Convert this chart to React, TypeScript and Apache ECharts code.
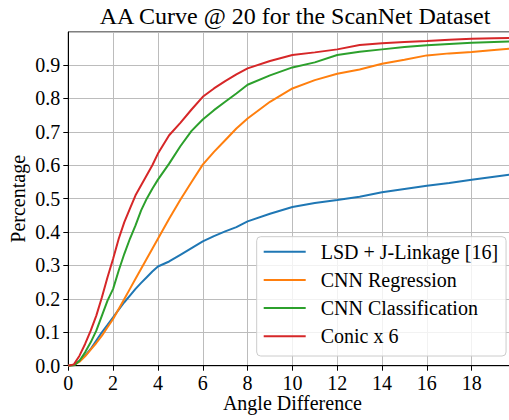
import React, { useEffect, useRef } from "react";
import * as echarts from "echarts";

const title = "AA Curve @ 20 for the ScanNet Dataset";
const xName = "Angle Difference";
const yName = "Percentage";
const seriesNames = ["LSD + J-Linkage [16]", "CNN Regression", "CNN Classification", "Conic x 6"];
const colors = ["#1f77b4", "#ff7f0e", "#2ca02c", "#d62728"];

const angles = [
  0, 0.25, 0.5, 0.75, 1, 1.25, 1.5, 1.75, 2, 2.25, 2.5, 2.75, 3, 3.25, 3.5, 3.75, 4,
  4.5, 5, 5.5, 6, 6.5, 7, 7.5, 8, 9, 10, 11, 12, 13, 14, 15, 16, 17, 18, 19, 20,
];
const lsd = [
  0, 0.002, 0.015, 0.03, 0.05, 0.075, 0.1, 0.122, 0.145, 0.168, 0.19, 0.21, 0.23, 0.248, 0.265, 0.282, 0.297,
  0.312, 0.332, 0.352, 0.372, 0.388, 0.402, 0.415, 0.432, 0.455, 0.475, 0.487, 0.496, 0.506, 0.519, 0.529, 0.539, 0.547, 0.557, 0.566, 0.575,
];
const cnnReg = [
  0, 0.002, 0.012, 0.028, 0.048, 0.068, 0.09, 0.115, 0.14, 0.17, 0.2, 0.23, 0.26, 0.29, 0.32, 0.35, 0.38,
  0.44, 0.497, 0.55, 0.602, 0.64, 0.675, 0.71, 0.74, 0.79, 0.83, 0.855, 0.874, 0.887, 0.904, 0.916, 0.929, 0.935, 0.939, 0.945, 0.951,
];
const cnnCls = [
  0, 0.001, 0.015, 0.04, 0.07, 0.105, 0.15, 0.195, 0.23, 0.285, 0.335, 0.38, 0.42, 0.465, 0.5, 0.53, 0.557,
  0.605, 0.657, 0.703, 0.737, 0.765, 0.79, 0.815, 0.841, 0.869, 0.893, 0.908, 0.93, 0.94, 0.947, 0.954, 0.959, 0.963, 0.967, 0.969, 0.971,
];
const conic = [
  0, 0.004, 0.03, 0.065, 0.105, 0.15, 0.205, 0.265, 0.32, 0.38, 0.43, 0.47, 0.51, 0.54, 0.57, 0.6, 0.635,
  0.69, 0.727, 0.767, 0.805, 0.83, 0.852, 0.872, 0.89, 0.912, 0.93, 0.938, 0.947, 0.96, 0.965, 0.969, 0.972, 0.976, 0.979, 0.98, 0.981,
];
const seriesValues = [lsd, cnnReg, cnnCls, conic];

const FONT = "Liberation Serif";
const FS = 20;

export default function App() {
  const ref = useRef<HTMLDivElement>(null);
  useEffect(() => {
    if (!ref.current) return;
    const chart = echarts.init(ref.current, undefined, { renderer: "svg" });
    const txt = { fontFamily: FONT, fontSize: FS, color: "#000" };
    chart.setOption({
      animation: false,
      backgroundColor: "#ffffff",
      textStyle: { fontFamily: FONT },
      title: {
        text: title,
        left: 290,
        textAlign: "center",
        top: -1,
        textStyle: { fontFamily: FONT, fontSize: 24, fontWeight: "normal", color: "#000" },
      },
      legend: {
        orient: "vertical",
        left: 256.7,
        top: 236.7,
        icon: "path://M0,0 L42,0 L42,2 L0,2 Z",
        itemWidth: 42,
        itemHeight: 20,
        itemGap: 8.2,
        padding: [5, 8, 9.7, 7],
        borderColor: "#cccccc",
        borderWidth: 1,
        borderRadius: 4,
        backgroundColor: "rgba(255,255,255,0.8)",
        textStyle: { ...txt, lineHeight: 20, padding: [0, 0, 0, 10] },
        data: seriesNames,
      },
      grid: {
        left: 68.3,
        top: 32,
        right: 3.5,
        bottom: 54.3,
        containLabel: false,
        outerBoundsMode: "none",
        show: true,
        borderColor: "#000",
        borderWidth: 1,
      },
      xAxis: {
        type: "value",
        min: 0,
        max: 20,
        interval: 2,
        name: xName,
        nameLocation: "middle",
        nameGap: 27,
        nameMoveOverlap: false,
        nameTextStyle: txt,
        axisLine: { show: true, lineStyle: { color: "#000", width: 1 } },
        axisTick: { show: true, length: 5, lineStyle: { color: "#000" } },
        axisLabel: { ...txt, margin: 7, showMaxLabel: false },
        splitLine: { show: true, lineStyle: { color: "#bcbcbc", width: 1 } },
      },
      yAxis: {
        type: "value",
        min: 0,
        max: 0.999,
        interval: 0.1,
        name: yName,
        nameLocation: "middle",
        nameGap: 40,
        nameMoveOverlap: false,
        nameRotate: 90,
        nameTextStyle: txt,
        axisLine: { show: true, lineStyle: { color: "#000", width: 1 } },
        axisTick: { show: true, length: 5, lineStyle: { color: "#000" } },
        axisLabel: {
          ...txt,
          margin: 8,
          showMaxLabel: false,
          formatter: (v: number) => v.toFixed(1),
        },
        splitLine: { show: true, lineStyle: { color: "#bcbcbc", width: 1 } },
      },
      series: seriesNames.map((name, i) => ({
        name,
        type: "line",
        symbol: "none",
        color: colors[i],
        itemStyle: { color: colors[i] },
        lineStyle: { color: colors[i], width: 2 },
        data: angles.map((a, j) => [a, seriesValues[i][j]]),
      })),
    });
    return () => chart.dispose();
  }, []);
  return (
    <div style={{ position: "fixed", left: 0, top: 0, width: 509, height: 420, overflow: "hidden", background: "#fff" }}>
      <div ref={ref} style={{ width: 520, height: 420 }} />
    </div>
  );
}
